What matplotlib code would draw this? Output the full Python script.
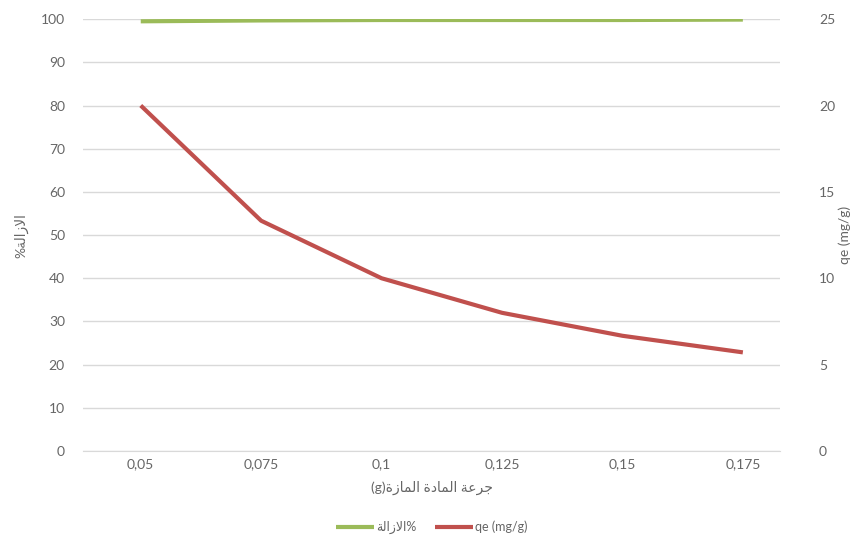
import matplotlib
matplotlib.use('Agg')
import matplotlib.pyplot as plt

# doses (g), removal %, adsorbed amount qe (mg/g)
doses = ['0,05', '0,075', '0,1', '0,125', '0,15', '0,175']
removal = [99.5, 99.7, 99.8, 99.8, 99.8, 99.9]
qe = [20.0, 13.33, 10.0, 8.0, 6.67, 5.71]

# matplotlib has no arabic shaping, so pick the presentation forms by hand
AR_FORMS = {  # isolated, final, initial, medial
    '\u0627': ('\ufe8d', '\ufe8e', None, None),
    '\u062c': ('\ufe9d', '\ufe9e', '\ufe9f', '\ufea0'),
    '\u062f': ('\ufea9', '\ufeaa', None, None),
    '\u0631': ('\ufead', '\ufeae', None, None),
    '\u0632': ('\ufeaf', '\ufeb0', None, None),
    '\u0639': ('\ufec9', '\ufeca', '\ufecb', '\ufecc'),
    '\u0629': ('\ufe93', '\ufe94', None, None),
    '\u0644': ('\ufedd', '\ufede', '\ufedf', '\ufee0'),
    '\u0645': ('\ufee1', '\ufee2', '\ufee3', '\ufee4'),
    '\u0647': ('\ufee9', '\ufeea', '\ufeeb', '\ufeec'),
    'LA': ('\ufefb', '\ufefc', None, None),
}


def shape(text):
    units = []
    i = 0
    while i < len(text):
        if text[i] == '\u0644' and i + 1 < len(text) and text[i + 1] == '\u0627':
            units.append('LA')
            i += 2
        else:
            units.append(text[i])
            i += 1
    out = []
    for k, u in enumerate(units):
        f = AR_FORMS.get(u)
        if f is None:
            out.append(u)
            continue
        prev = AR_FORMS.get(units[k - 1]) if k > 0 else None
        nxt = AR_FORMS.get(units[k + 1]) if k + 1 < len(units) else None
        jp = prev is not None and prev[2] is not None
        jn = nxt is not None and f[2] is not None
        idx = 3 if (jp and jn) else 1 if jp else 2 if jn else 0
        out.append(f[idx])
    return ''.join(reversed(out))


removal_word = shape('الازالة')
x_title = '(g)' + shape('جرعة المادة المازة')

plt.rcParams['font.family'] = ['Lato', 'DejaVu Sans']
grey = '#666666'

fig = plt.figure(figsize=(8.64, 5.47), dpi=100)
ax = fig.add_axes([0.096, 0.1755, 0.807, 0.7895])
ax2 = ax.twinx()

x = list(range(len(doses)))
l1, = ax.plot(x, removal, color='#9BBB59', lw=3, solid_capstyle='butt', zorder=3)
l2, = ax2.plot(x, qe, color='#C0504D', lw=3, solid_capstyle='butt', zorder=3)

ax.set_xlim(-0.48, 5.31)
ax.set_ylim(0, 100)
ax.set_yticks(range(0, 101, 10))
ax2.set_ylim(0, 25)
ax2.set_yticks(range(0, 26, 5))
ax.set_xticks(x)
ax.set_xticklabels(doses)

ax.grid(axis='y', color='#d9d9d9', lw=1)
ax.set_axisbelow(True)
for a in (ax, ax2):
    for s in a.spines.values():
        s.set_visible(False)
    a.tick_params(length=0, colors=grey, labelsize=10)
ax.spines['bottom'].set_visible(True)
ax.spines['bottom'].set_color('#d9d9d9')
ax.tick_params(axis='y', pad=13)
ax2.tick_params(axis='y', pad=28)
ax.tick_params(axis='x', pad=5)

ax.set_xlabel(x_title, color=grey, fontsize=10, labelpad=8)
ax.set_ylabel('%' + removal_word, color=grey, fontsize=10, labelpad=9)
ax2.set_ylabel('qe (mg/g)', color=grey, fontsize=10, rotation=90, labelpad=2)

fig.legend([l1, l2], [removal_word + '%', 'qe (mg/g)'], loc='center',
           bbox_to_anchor=(0.5, 0.036), ncol=2, frameon=False, fontsize=9,
           handlelength=3, columnspacing=1.5, handletextpad=0.2,
           labelcolor=grey)

fig.savefig('out.png', dpi=100)
